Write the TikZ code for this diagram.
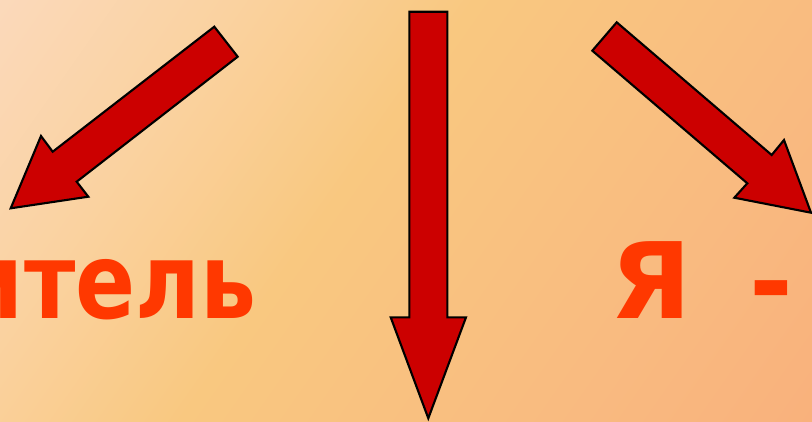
\documentclass[tikz,border=0pt]{standalone}
\usepackage{fontspec}
\usepackage{xcolor}
\usepackage{tikz}
\usetikzlibrary{positioning,calc}
\newfontfamily\wordfont{DejaVu Sans}
\definecolor{arrowred}{RGB}{204,0,0}
\definecolor{wordred}{RGB}{255,56,0}
\definecolor{bgpale}{RGB}{252,224,214}
\definecolor{bgpeach}{RGB}{250,210,160}
\definecolor{bgyellow}{RGB}{249,200,128}
\definecolor{bgorange}{RGB}{249,186,128}
\definecolor{bgsalmon}{RGB}{248,168,120}
\pgfdeclarehorizontalshading{slidebg}{100bp}{
  color(0bp)=(bgpale); color(30bp)=(bgpeach); color(45bp)=(bgyellow);
  color(70bp)=(bgorange); color(100bp)=(bgsalmon)}
\tikzset{
  blockarrow/.style={draw=black, fill=arrowred, line width=0.6pt, line join=miter},
  word/.style={font=\wordfont\bfseries\fontsize{30}{36}\selectfont, text=wordred,
               inner sep=0pt}
}

\begin{document}
\begin{tikzpicture}[x=0.01cm, y=-0.01cm]
\useasboundingbox (0,0) rectangle (812,421);
\clip (0,0) rectangle (812,421);
\shade[shading=slidebg, shading angle=-35] (0,0) rectangle (812,421);
% left arrow
\draw[blockarrow] (214.3,26.7) -- (237.7,56.7) -- (76.7,181.7) -- (88.3,196.7)
  -- (10.7,208.3) -- (41,136) -- (52.7,151.7) -- cycle;
% middle arrow
\draw[blockarrow] (409.3,11.7) -- (447.3,11.7) -- (447.3,317.3) -- (466,317.3)
  -- (428.3,418.3) -- (390.7,317.3) -- (409.3,317.3) -- cycle;
% right arrow
\draw[blockarrow] (616.7,22.3) -- (771.7,155) -- (784,140) -- (811,212.7)
  -- (734.3,197.7) -- (747.3,183.3) -- (592.3,50.7) -- cycle;
\node[word, anchor=base east, xscale=0.84] (leftword) at (257,318) {итель};
\node[word, anchor=base west] (rightword) at (610,318) {Я\hspace{0.55em}-};
\end{tikzpicture}
\end{document}
